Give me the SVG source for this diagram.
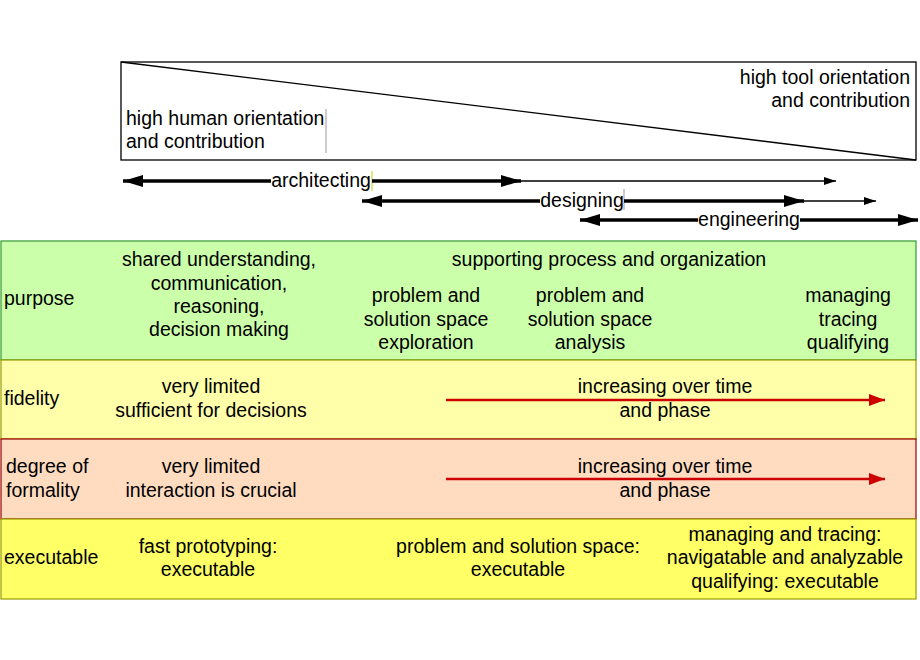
<svg xmlns="http://www.w3.org/2000/svg" width="920" height="660" viewBox="0 0 920 660">
<defs>
<marker id="ah" markerWidth="20" markerHeight="12" refX="20" refY="6" orient="auto-start-reverse" markerUnits="userSpaceOnUse">
<path d="M0,0 L20,6 L0,12 Z" fill="#000"/>
</marker>
<marker id="ahs" markerWidth="12" markerHeight="8" refX="12" refY="4" orient="auto" markerUnits="userSpaceOnUse">
<path d="M0,0 L12,4 L0,8 Z" fill="#000"/>
</marker>
<marker id="ahr" markerWidth="16" markerHeight="12" refX="16" refY="6" orient="auto" markerUnits="userSpaceOnUse">
<path d="M0,0 L16,6 L0,12 Z" fill="#cc0000"/>
</marker>
</defs>
<style>
text{font-family:"Liberation Sans",Arial,sans-serif;font-size:19.5px;fill:#000}
.c{text-anchor:middle}
.r{text-anchor:end}
.thick{stroke:#000;stroke-width:3.5;fill:none}
.thin{stroke:#000;stroke-width:1.3;fill:none}
.red{stroke:#cc0000;stroke-width:2.5;fill:none}
</style>
<rect width="920" height="660" fill="#fff"/>
<g id="orientation">
<rect x="121" y="62" width="795" height="98" fill="#fff" stroke="#000" stroke-width="1.3"/>
<line x1="121" y1="62" x2="916" y2="160" stroke="#000" stroke-width="1.3"/>
<line x1="326" y1="109" x2="326" y2="153" stroke="#999" stroke-width="1"/>
<text x="126" y="125">high human orientation</text>
<text x="126" y="148">and contribution</text>
<text class="r" x="910" y="84">high tool orientation</text>
<text class="r" x="910" y="107">and contribution</text>
</g>
<g id="phases">
<text class="c" x="321" y="187">architecting</text>
<line x1="372" y1="171" x2="372" y2="191" stroke="#cccc00" stroke-width="1"/>
<text class="c" x="582" y="207">designing</text>
<line x1="624" y1="189" x2="624" y2="210" stroke="#999" stroke-width="1"/>
<text class="c" x="749" y="226">engineering</text>
</g>
<g id="row-purpose">
<rect x="1" y="241" width="915" height="119" fill="#ccffaa" stroke="#339933" stroke-width="1.2"/>
<text x="4" y="305">purpose</text>
<text class="c" x="219" y="266">shared understanding,</text>
<text class="c" x="219" y="290">communication,</text>
<text class="c" x="219" y="313">reasoning,</text>
<text class="c" x="219" y="336">decision making</text>
<text class="c" x="609" y="266">supporting process and organization</text>
<text class="c" x="426" y="302">problem and</text>
<text class="c" x="426" y="326">solution space</text>
<text class="c" x="426" y="349">exploration</text>
<text class="c" x="590" y="302">problem and</text>
<text class="c" x="590" y="326">solution space</text>
<text class="c" x="590" y="349">analysis</text>
<text class="c" x="848" y="302">managing</text>
<text class="c" x="848" y="326">tracing</text>
<text class="c" x="848" y="349">qualifying</text>
</g>
<g id="row-fidelity">
<rect x="1" y="360" width="915" height="79" fill="#ffffaa" stroke="#999900" stroke-width="1.2"/>
<text x="4" y="405">fidelity</text>
<text class="c" x="211" y="393">very limited</text>
<text class="c" x="211" y="417">sufficient for decisions</text>
<text class="c" x="665" y="393">increasing over time</text>
<text class="c" x="665" y="417">and phase</text>
</g>
<g id="row-formality">
<rect x="1" y="439" width="915" height="80" fill="#ffdcc0" stroke="#990000" stroke-width="1.2"/>
<text x="6" y="473">degree of</text>
<text x="6" y="497">formality</text>
<text class="c" x="211" y="473">very limited</text>
<text class="c" x="211" y="497">interaction is crucial</text>
<text class="c" x="665" y="473">increasing over time</text>
<text class="c" x="665" y="497">and phase</text>
</g>
<g id="row-executable">
<rect x="1" y="519" width="915" height="80" fill="#ffff66" stroke="#999900" stroke-width="1.2"/>
<text x="4" y="564">executable</text>
<text class="c" x="208" y="553">fast prototyping:</text>
<text class="c" x="208" y="576">executable</text>
<text class="c" x="518" y="553">problem and solution space:</text>
<text class="c" x="518" y="576">executable</text>
<text class="c" x="785" y="541">managing and tracing:</text>
<text class="c" x="785" y="564">navigatable and analyzable</text>
<text class="c" x="785" y="588">qualifying: executable</text>
</g>
<g id="connectors">
<line class="thick" x1="123" y1="181" x2="271" y2="181" marker-start="url(#ah)"/>
<line class="thick" x1="372" y1="181" x2="521" y2="181" marker-end="url(#ah)"/>
<line class="thin" x1="521" y1="181" x2="836" y2="181" marker-end="url(#ahs)"/>
<line class="thick" x1="362" y1="201" x2="540" y2="201" marker-start="url(#ah)"/>
<line class="thick" x1="624" y1="201" x2="804" y2="201" marker-end="url(#ah)"/>
<line class="thin" x1="804" y1="201" x2="876" y2="201" marker-end="url(#ahs)"/>
<line class="thick" x1="580" y1="220" x2="698" y2="220" marker-start="url(#ah)"/>
<line class="thick" x1="800" y1="220" x2="918" y2="220" marker-end="url(#ah)"/>
<line class="red" x1="446" y1="400" x2="885" y2="400" marker-end="url(#ahr)"/>
<line class="red" x1="446" y1="479" x2="885" y2="479" marker-end="url(#ahr)"/>
</g>
</svg>
